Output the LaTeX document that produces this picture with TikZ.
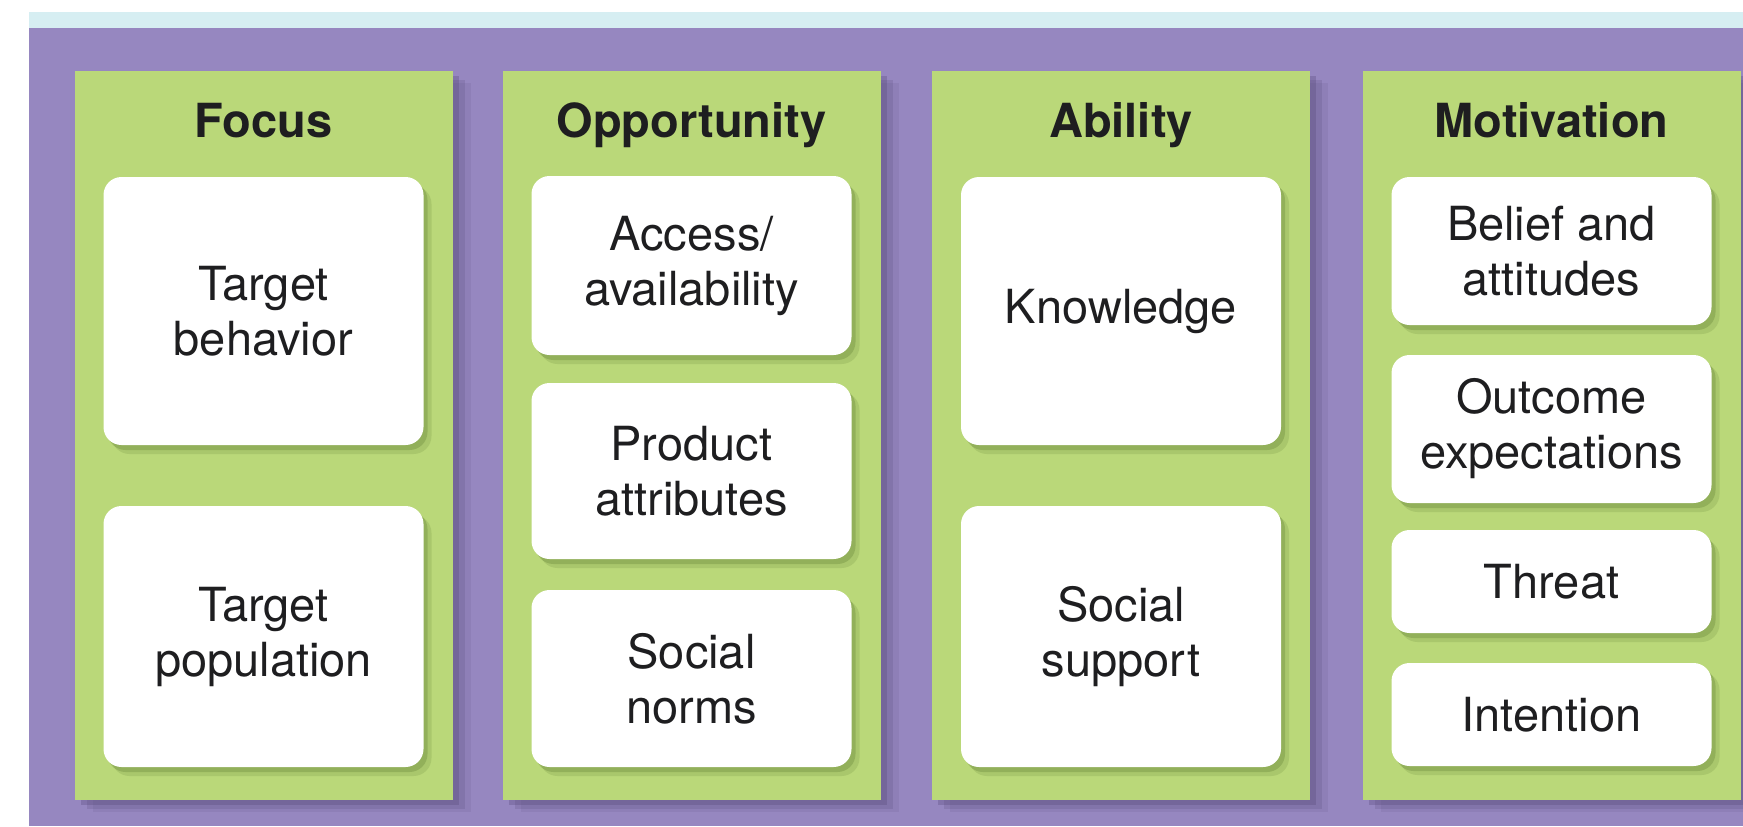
\documentclass[tikz,border=0pt]{standalone}
\usepackage{fontspec}
\setmainfont{TeX Gyre Heros}
\usetikzlibrary{shadows}
\definecolor{bgpurple}{RGB}{150,135,192}
\definecolor{strip}{RGB}{214,238,242}
\definecolor{colgreen}{RGB}{186,216,121}
\definecolor{colshadow}{RGB}{85,72,120}
\definecolor{boxshadow}{RGB}{95,125,50}
\definecolor{textdark}{RGB}{30,30,32}
\tikzset{
  colbox/.style={fill=colgreen, minimum width=189pt, minimum height=364.5pt, inner sep=0pt,
    general shadow={shadow xshift=9pt, shadow yshift=-6pt, fill=colshadow, opacity=0.12},
    general shadow={shadow xshift=6pt, shadow yshift=-4.5pt, fill=colshadow, opacity=0.2},
    general shadow={shadow xshift=3pt, shadow yshift=-2.5pt, fill=colshadow, opacity=0.3}},
  headtext/.style={font=\bfseries\fontsize{23.5}{27.5}\selectfont, text=textdark, anchor=base, inner sep=0pt},
  itembox/.style={fill=white, rounded corners=9pt, minimum width=160pt, inner sep=0pt, align=center,
    font=\fontsize{23.5}{27.5}\selectfont, text=textdark,
    general shadow={shadow xshift=4pt, shadow yshift=-4.5pt, fill=boxshadow, opacity=0.18},
    general shadow={shadow xshift=2pt, shadow yshift=-2.5pt, fill=boxshadow, opacity=0.3}}
}
\begin{document}
\begin{tikzpicture}[x=0.5pt, y=-0.5pt]
\useasboundingbox (0,0) rectangle (1743,826);
\fill[white] (0,0) rectangle (1743,826);
\fill[strip] (29,12) rectangle (1743,28);
\fill[bgpurple] (29,28) rectangle (1743,826);

% columns
\node[colbox] (cf) at (263.5,435.5) {};
\node[colbox] (co) at (691.5,435.5) {};
\node[colbox] (ca) at (1121,435.5) {};
\node[colbox] (cm) at (1551.5,435.5) {};

% headers
\node[headtext] (hf) at (263.5,137) {Focus};
\node[headtext] (ho) at (691.5,137) {Opportunity};
\node[headtext] (ha) at (1121,137) {Ability};
\node[headtext] (hm) at (1551.5,137) {Motivation};

% Focus
\node[itembox, minimum height=134pt] (f1) at (263.5,311) {Target\\behavior};
\node[itembox, minimum height=130.5pt] (f2) at (263.5,636.5) {Target\\population};

% Opportunity
\node[itembox, minimum height=89.5pt] (o1) at (691.5,265.5) {Access/\\availability};
\node[itembox, minimum height=88pt] (o2) at (691.5,471) {Product\\attributes};
\node[itembox, minimum height=88.5pt] (o3) at (691.5,678.5) {Social\\norms};

% Ability
\node[itembox, minimum height=134pt] (a1) at (1121,311) {Knowledge};
\node[itembox, minimum height=130.5pt] (a2) at (1121,636.5) {Social\\support};

% Motivation
\node[itembox, minimum height=74pt] (m1) at (1551.5,251) {Belief and\\attitudes};
\node[itembox, minimum height=74pt] (m2) at (1551.5,429) {Outcome\\expectations};
\node[itembox, minimum height=51.5pt] (m3) at (1551.5,581.5) {Threat};
\node[itembox, minimum height=51.5pt] (m4) at (1551.5,714.5) {Intention};
\end{tikzpicture}
\end{document}
